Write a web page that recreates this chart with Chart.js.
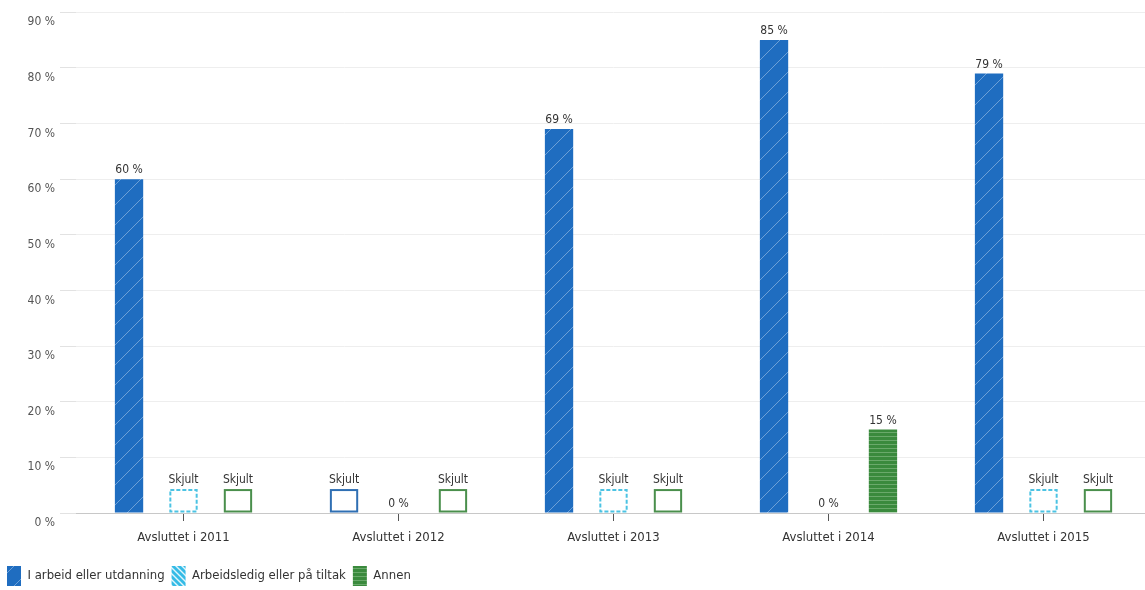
<!DOCTYPE html>
<html>
<head>
<meta charset="utf-8">
<script src="https://cdn.jsdelivr.net/npm/chart.js@4/dist/chart.umd.min.js"></script>
<style>
    html, body { margin: 0; padding: 0; background: #fff; overflow: hidden; }
    #wrap { width: 1151px; height: 596px; position: relative; }
</style>
</head>
<body>
<div id="wrap"><canvas id="chart"></canvas></div>
<script>
// Data (null = hidden value, "Skjult")
const categories = ['Avsluttet i 2011', 'Avsluttet i 2012', 'Avsluttet i 2013', 'Avsluttet i 2014', 'Avsluttet i 2015'];
const seriesNames = ['I arbeid eller utdanning', 'Arbeidsledig eller på tiltak', 'Annen'];
const iArbeid = [60, null, 69, 85, 79];
const arbeidsledig = [null, 0, null, 0, null];
const annen = [null, null, null, 15, null];
const yTicks = [0, 10, 20, 30, 40, 50, 60, 70, 80, 90];
const SKJULT_HEIGHT = 4.3; // placeholder box height for hidden values

const FONT = '"Liberation Sans Narrow", "DejaVu Sans Condensed", "Noto Sans", sans-serif';

// Patterns
function makePattern(size, draw) {
    const c = document.createElement('canvas');
    c.width = size; c.height = size;
    const g = c.getContext('2d');
    draw(g, size);
    return g.createPattern(c, 'repeat');
}
const bluePattern = makePattern(20, function (g, s) {
    g.fillStyle = '#1f6dc0';
    g.fillRect(0, 0, s, s);
    g.strokeStyle = 'rgba(255,255,255,0.35)';
    g.lineWidth = 1;
    g.beginPath();
    g.moveTo(-1, s + 1); g.lineTo(s + 1, -1);
    g.stroke();
});
const cyanPattern = makePattern(6, function (g, s) {
    g.fillStyle = '#35bbe6';
    g.fillRect(0, 0, s, s);
    g.strokeStyle = 'rgba(255,255,255,0.85)';
    g.lineWidth = 1.4;
    g.beginPath();
    g.moveTo(-1, -1); g.lineTo(s + 1, s + 1);
    g.moveTo(-1, s - 1); g.lineTo(1, s + 1);
    g.moveTo(s - 1, -1); g.lineTo(s + 1, 1);
    g.stroke();
});
const greenPattern = makePattern(4, function (g, s) {
    g.fillStyle = '#3a8a3d';
    g.fillRect(0, 0, s, s);
    g.fillStyle = '#6aa96b';
    g.fillRect(0, 0, s, 1);
});

const seriesValues = [iArbeid, arbeidsledig, annen];
const patterns = [bluePattern, cyanPattern, greenPattern];
const outlineColors = ['#2f6fb3', '#4cc3e3', '#4a8f4c'];
const outlineDash = [[], [4, 2], []];

function makeDataset(i) {
    const vals = seriesValues[i];
    return {
        label: seriesNames[i],
        data: vals.map(v => v === null ? SKJULT_HEIGHT : v),
        backgroundColor: function (ctx) {
            if (ctx.dataIndex === undefined) return patterns[i];
            return vals[ctx.dataIndex] === null ? 'rgba(0,0,0,0)' : patterns[i];
        },
        borderWidth: 0,
        categoryPercentage: 0.76,
        barPercentage: 0.52
    };
}

// Draws "Skjult" outline boxes and value labels
const labelPlugin = {
    id: 'valueLabels',
    afterDatasetsDraw(chart) {
        const ctx = chart.ctx;
        ctx.save();
        chart.data.datasets.forEach(function (ds, i) {
            const meta = chart.getDatasetMeta(i);
            meta.data.forEach(function (bar, j) {
                const v = seriesValues[i][j];
                const left = bar.x - bar.width / 2;
                if (v === null) {
                    ctx.setLineDash(outlineDash[i]);
                    ctx.strokeStyle = outlineColors[i];
                    ctx.lineWidth = 2;
                    ctx.strokeRect(left + 1, bar.y + 1, bar.width - 2, bar.base - bar.y - 2);
                    ctx.setLineDash([]);
                }
                ctx.fillStyle = '#333';
                ctx.font = '12px ' + FONT;
                ctx.textAlign = 'center';
                ctx.textBaseline = 'bottom';
                const text = v === null ? 'Skjult' : v + ' %';
                ctx.fillText(text, bar.x, bar.y - 3);
            });
        });
        ctx.restore();
    }
};

new Chart(document.getElementById('chart'), {
    type: 'bar',
    data: {
        labels: categories,
        datasets: [makeDataset(0), makeDataset(1), makeDataset(2)]
    },
    options: {
        responsive: true,
        maintainAspectRatio: false,
        animation: false,
        layout: { padding: { top: 12, left: 0, right: 0, bottom: 0 } },
        scales: {
            x: {
                afterFit: function (axis) { axis.height = 46; },
                grid: {
                    offset: false,
                    drawOnChartArea: false,
                    tickLength: 8,
                    tickColor: '#555'
                },
                border: { color: '#c8c8c8' },
                ticks: {
                    color: '#333',
                    padding: 9,
                    font: { family: FONT, size: 13 }
                }
            },
            y: {
                min: 0,
                max: 90,
                afterBuildTicks: function (axis) {
                    axis.ticks = yTicks.map(v => ({ value: v }));
                },
                afterFit: function (axis) { axis.width = 76; },
                grid: { color: '#eeeeee', tickLength: 16, tickColor: '#e2e2e2' },
                border: { display: false },
                ticks: {
                    color: '#555',
                    padding: 5,
                    labelOffset: 10,
                    font: { family: FONT, size: 12 },
                    callback: v => v + ' %'
                }
            }
        },
        plugins: {
            tooltip: { enabled: false },
            legend: {
                position: 'bottom',
                align: 'start',
                labels: {
                    boxWidth: 14,
                    boxHeight: 20,
                    padding: 7,
                    color: '#333',
                    font: { family: FONT, size: 13 },
                    generateLabels: function (chart) {
                        const items = Chart.defaults.plugins.legend.labels.generateLabels(chart);
                        items.forEach(function (item, i) {
                            item.fillStyle = patterns[i];
                            item.strokeStyle = 'rgba(0,0,0,0)';
                            item.lineWidth = 0;
                        });
                        return items;
                    }
                }
            }
        }
    },
    plugins: [labelPlugin]
});
</script>
</body>
</html>
